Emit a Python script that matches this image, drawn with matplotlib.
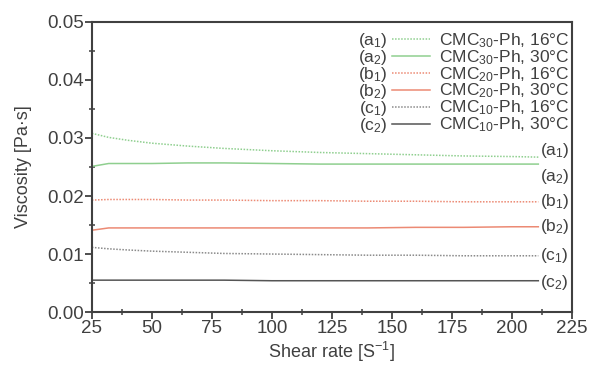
import numpy as np
import matplotlib
matplotlib.use('Agg')
import matplotlib.pyplot as plt
from matplotlib.ticker import MultipleLocator, FormatStrFormatter

plt.rcParams['font.family'] = ['Liberation Sans', 'DejaVu Sans']
plt.rcParams['mathtext.default'] = 'regular'
plt.rcParams['mathtext.fontset'] = 'custom'
plt.rcParams['mathtext.rm'] = 'Liberation Sans'

# shear rate (1/s) and viscosity (Pa s)
shear = [25, 32, 40, 50, 65, 80, 100, 120, 140, 160, 180, 200, 211]
a1 = [0.0308, 0.0301, 0.0296, 0.0291, 0.0286, 0.0282, 0.0278, 0.0275, 0.0273, 0.0271, 0.0269, 0.0268, 0.0267]
a2 = [0.0251, 0.0256, 0.0256, 0.0256, 0.0257, 0.0257, 0.0256, 0.0255, 0.0255, 0.0255, 0.0255, 0.0255, 0.0255]
b1 = [0.0193, 0.0194, 0.0194, 0.0194, 0.0193, 0.0193, 0.0192, 0.0192, 0.0191, 0.0191, 0.0190, 0.0190, 0.0190]
b2 = [0.0141, 0.0145, 0.0145, 0.0145, 0.0145, 0.0145, 0.0145, 0.0145, 0.0145, 0.0146, 0.0146, 0.0147, 0.0147]
c1 = [0.01115, 0.0109, 0.0107, 0.0105, 0.0103, 0.0101, 0.0100, 0.0099, 0.0098, 0.0098, 0.0097, 0.0097, 0.0097]
c2 = [0.0055, 0.0055, 0.0055, 0.0055, 0.0055, 0.0055, 0.0054, 0.0054, 0.0054, 0.0054, 0.0054, 0.0054, 0.0054]

series = [a1, a2, b1, b2, c1, c2]
tags = ['(a$_1$)', '(a$_2$)', '(b$_1$)', '(b$_2$)', '(c$_1$)', '(c$_2$)']
names = ['CMC$_{30}$-Ph, 16°C', 'CMC$_{30}$-Ph, 30°C',
         'CMC$_{20}$-Ph, 16°C', 'CMC$_{20}$-Ph, 30°C',
         'CMC$_{10}$-Ph, 16°C', 'CMC$_{10}$-Ph, 30°C']
colors = ['#8fcf8f', '#8fcf8f', '#ec8a74', '#ec8a74', '#8a8a8a', '#555555']
styles = [(0, (1, 1)), '-', (0, (1, 1)), '-', (0, (1, 1)), '-']
tag_offsets = [5, -9, 0, 0, 0, -1]  # points, to keep end labels apart

txt = '#404040'
fig = plt.figure(figsize=(5.89, 3.65), dpi=100)
ax = fig.add_axes([0.156, 0.145, 0.815, 0.795])

handles = []
for y, c, ls, tg, off in zip(series, colors, styles, tags, tag_offsets):
    h, = ax.plot(shear, y, color=c, ls=ls, lw=1.1)
    handles.append(h)
    ax.annotate(tg, (shear[-1], y[-1]), xytext=(1, off), textcoords='offset points',
                ha='left', va='center', fontsize=12.5, color=txt)

ax.set_xlim(25, 225)
ax.set_ylim(0, 0.05)
ax.xaxis.set_major_locator(MultipleLocator(25))
ax.xaxis.set_minor_locator(MultipleLocator(12.5))
ax.yaxis.set_major_locator(MultipleLocator(0.01))
ax.yaxis.set_minor_locator(MultipleLocator(0.005))
ax.yaxis.set_major_formatter(FormatStrFormatter('%.2f'))
ax.tick_params(which='major', direction='out', length=5, width=1.3, color=txt,
               labelsize=13.5, labelcolor=txt, pad=1)
ax.tick_params(which='minor', direction='inout', length=5, width=1.1, color=txt)
for s in ax.spines.values():
    s.set_color(txt)
    s.set_linewidth(1.5)

ax.set_xlabel('Shear rate [S$^{-1}$]', fontsize=13, color=txt, labelpad=2)
ax.set_ylabel('Viscosity [Pa·s]', fontsize=13, color=txt, labelpad=11)

leg = ax.legend(handles, names, loc='upper right', bbox_to_anchor=(1.0, 0.978),
                frameon=False, fontsize=12.5, handlelength=2.2, handletextpad=0.5,
                labelspacing=-0.1, borderaxespad=0.05, borderpad=0.1, labelcolor=txt)

# the (a1)...(c2) column in front of the legend, lined up with its rows
fig.canvas.draw()
inv = fig.transFigure.inverted()
for tg, t, ln in zip(tags, leg.get_texts(), leg.get_lines()):
    tb = t.get_window_extent()
    lb = ln.get_window_extent()
    xf, yf = inv.transform((lb.x0 - 4, (tb.y0 + tb.y1) / 2))
    fig.text(xf, yf, tg, ha='right', va='center', fontsize=12.5, color=txt)

fig.savefig('out.png', dpi=100)
